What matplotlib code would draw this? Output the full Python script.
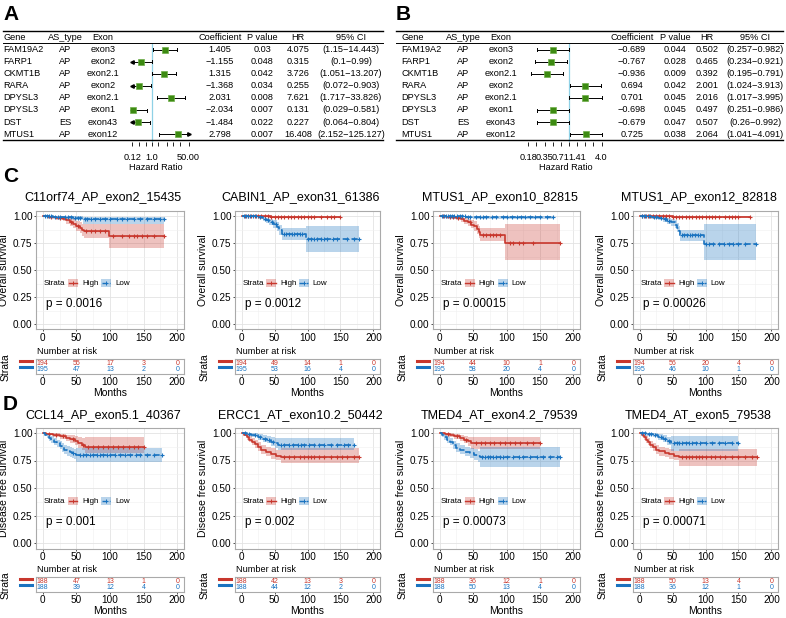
import matplotlib as mpl
mpl.use("Agg")
import matplotlib.pyplot as plt
from matplotlib.lines import Line2D
from matplotlib.patches import Rectangle
import numpy as np

plt.rcParams['font.family'] = ['Liberation Sans', 'DejaVu Sans']

# ---------------- forest tables ----------------
genes = ["FAM19A2", "FARP1", "CKMT1B", "RARA", "DPYSL3", "DPYSL3", "DST", "MTUS1"]
as_types = ["AP", "AP", "AP", "AP", "AP", "AP", "ES", "AP"]
exons = ["exon3", "exon2", "exon2.1", "exon2", "exon2.1", "exon1", "exon43", "exon12"]

a_coef = [1.405, -1.155, 1.315, -1.368, 2.031, -2.034, -1.484, 2.798]
a_pval = [0.03, 0.048, 0.042, 0.034, 0.008, 0.007, 0.022, 0.007]
a_hr = [4.075, 0.315, 3.726, 0.255, 7.621, 0.131, 0.227, 16.408]
a_lo = [1.15, 0.1, 1.051, 0.072, 1.717, 0.029, 0.064, 2.152]
a_hi = [14.443, 0.99, 13.207, 0.903, 33.826, 0.581, 0.804, 125.127]

b_coef = [-0.689, -0.767, -0.936, 0.694, 0.701, -0.698, -0.679, 0.725]
b_pval = [0.044, 0.028, 0.009, 0.042, 0.045, 0.045, 0.047, 0.038]
b_hr = [0.502, 0.465, 0.392, 2.001, 2.016, 0.497, 0.507, 2.064]
b_lo = [0.257, 0.234, 0.195, 1.024, 1.017, 0.251, 0.26, 1.041]
b_hi = [0.982, 0.921, 0.791, 3.913, 3.995, 0.986, 0.992, 4.091]

a_ticks = [0.12, 0.25, 0.5, 1.0, 2.0, 5.0, 10.0, 20.0, 50.0]
a_ticklabels = ["0.12", "", "", "1.0", "", "", "", "", "50.00"]
b_ticks = [0.177, 0.25, 0.354, 0.5, 0.707, 1.0, 1.414, 2.0, 2.83, 4.0]
b_ticklabels = ["0.18", "", "0.35", "", "0.71", "", "1.41", "", "", "4.0"]

# ---------------- Kaplan-Meier curves ----------------
risk_times = [0, 50, 100, 150, 200]

# C1 C11orf74
c1_high_t = [0, 8, 20, 30, 35, 40, 45, 50, 55, 58, 62, 98, 180]
c1_high_s = [1.0, 0.99, 0.985, 0.975, 0.96, 0.945, 0.93, 0.91, 0.89, 0.87, 0.86, 0.815, 0.815]
c1_high_lo = [1.0, 0.975, 0.965, 0.95, 0.93, 0.91, 0.89, 0.865, 0.84, 0.815, 0.80, 0.70, 0.70]
c1_high_up = [1.0, 1.0, 1.0, 0.995, 0.99, 0.98, 0.97, 0.955, 0.94, 0.93, 0.925, 0.93, 0.93]
c1_high_cens = [12, 25, 42, 52, 65, 72, 78, 85, 92, 105, 118, 128, 135, 140, 147, 155, 165, 180]
c1_low_t = [0, 15, 30, 45, 60, 180]
c1_low_s = [1.0, 0.995, 0.99, 0.985, 0.97, 0.97]
c1_low_lo = [1.0, 0.985, 0.975, 0.965, 0.925, 0.925]
c1_low_up = [1.0, 1.0, 1.0, 1.0, 0.995, 0.995]
c1_low_cens = [3, 6, 9, 12, 18, 22, 26, 33, 38, 42, 48, 52, 56, 63, 66, 72, 78, 85, 92, 100,
               110, 118, 125, 135, 145, 155, 165, 175, 180]
c1_risk_high = [194, 55, 17, 3, 0]
c1_risk_low = [195, 47, 13, 2, 0]

# C2 CABIN1
c2_high_t = [0, 20, 45, 80, 150]
c2_high_s = [1.0, 0.997, 0.995, 0.992, 0.992]
c2_high_lo = [1.0, 0.99, 0.985, 0.978, 0.978]
c2_high_up = [1.0, 1.0, 1.0, 1.0, 1.0]
c2_high_cens = [5, 10, 15, 20, 25, 30, 35, 40, 45, 50, 55, 60, 65, 70, 75, 80, 85, 90, 95, 100,
                105, 110, 120, 130, 135, 140, 150]
c2_low_t = [0, 25, 32, 37, 42, 48, 53, 57, 61, 97, 178]
c2_low_s = [1.0, 0.99, 0.975, 0.96, 0.945, 0.925, 0.90, 0.87, 0.835, 0.79, 0.79]
c2_low_lo = [1.0, 0.975, 0.955, 0.935, 0.915, 0.89, 0.86, 0.825, 0.78, 0.67, 0.67]
c2_low_up = [1.0, 1.0, 0.995, 0.985, 0.975, 0.96, 0.94, 0.915, 0.89, 0.91, 0.91]
c2_low_cens = [3, 6, 9, 13, 17, 22, 28, 35, 40, 46, 52, 64, 68, 72, 76, 80, 84, 88, 92, 100,
               105, 110, 115, 120, 125, 130, 138, 145, 160, 170, 178]
c2_risk_high = [194, 49, 14, 1, 0]
c2_risk_low = [195, 53, 16, 4, 0]

# C3 MTUS1 exon10
c3_high_t = [0, 10, 25, 32, 37, 42, 47, 52, 56, 59, 61, 98, 180]
c3_high_s = [1.0, 0.99, 0.98, 0.97, 0.955, 0.94, 0.92, 0.905, 0.88, 0.85, 0.82, 0.75, 0.75]
c3_high_lo = [1.0, 0.975, 0.96, 0.945, 0.93, 0.91, 0.885, 0.865, 0.835, 0.80, 0.765, 0.59, 0.59]
c3_high_up = [1.0, 1.0, 1.0, 0.995, 0.985, 0.975, 0.96, 0.95, 0.93, 0.91, 0.885, 0.93, 0.93]
c3_high_cens = [5, 15, 20, 28, 45, 65, 70, 75, 80, 85, 90, 105, 110, 118, 125, 140, 180]
c3_low_t = [0, 20, 40, 50, 170]
c3_low_s = [1.0, 0.997, 0.995, 0.99, 0.99]
c3_low_lo = [1.0, 0.99, 0.985, 0.97, 0.97]
c3_low_up = [1.0, 1.0, 1.0, 1.0, 1.0]
c3_low_cens = [3, 6, 9, 12, 15, 18, 22, 26, 30, 34, 38, 42, 46, 55, 60, 65, 70, 78, 85, 95,
               100, 108, 115, 122, 128, 135, 142, 150, 160, 170]
c3_risk_high = [194, 44, 10, 1, 0]
c3_risk_low = [195, 58, 20, 4, 0]

# C4 MTUS1 exon12
c4_high_t = [0, 20, 50, 100, 168]
c4_high_s = [1.0, 0.997, 0.995, 0.995, 0.995]
c4_high_lo = [1.0, 0.99, 0.985, 0.985, 0.985]
c4_high_up = [1.0, 1.0, 1.0, 1.0, 1.0]
c4_high_cens = [4, 8, 12, 16, 20, 25, 30, 35, 40, 45, 50, 55, 60, 65, 70, 75, 80, 85, 90, 95,
                100, 105, 110, 115, 120, 130, 135, 140, 145, 150, 168]
c4_low_t = [0, 18, 28, 35, 42, 48, 53, 57, 60, 62, 97, 177]
c4_low_s = [1.0, 0.99, 0.98, 0.97, 0.955, 0.94, 0.92, 0.89, 0.86, 0.82, 0.745, 0.745]
c4_low_lo = [1.0, 0.975, 0.96, 0.945, 0.925, 0.91, 0.885, 0.85, 0.815, 0.77, 0.59, 0.59]
c4_low_up = [1.0, 1.0, 1.0, 0.995, 0.985, 0.975, 0.96, 0.935, 0.91, 0.875, 0.93, 0.93]
c4_low_cens = [3, 6, 10, 14, 22, 25, 32, 38, 45, 65, 68, 72, 76, 80, 84, 88, 92, 100, 105,
               112, 120, 128, 135, 142, 150, 160, 177]
c4_risk_high = [194, 56, 20, 4, 0]
c4_risk_low = [195, 46, 10, 1, 0]

# D1 CCL14
d1_high_t = [0, 5, 15, 26, 35, 41, 48, 53, 58, 63, 150]
d1_high_s = [1.0, 0.995, 0.98, 0.97, 0.955, 0.945, 0.93, 0.91, 0.895, 0.875, 0.875]
d1_high_lo = [1.0, 0.985, 0.96, 0.945, 0.925, 0.91, 0.89, 0.865, 0.845, 0.82, 0.82]
d1_high_up = [1.0, 1.0, 1.0, 0.995, 0.985, 0.98, 0.97, 0.96, 0.955, 0.96, 0.96]
d1_high_cens = [10, 20, 30, 45, 60, 68, 75, 82, 90, 97, 105, 112, 120, 128, 135, 142, 150]
d1_low_t = [0, 3, 6, 10, 13, 17, 21, 25, 28, 32, 36, 40, 43, 47, 50, 178]
d1_low_s = [1.0, 0.985, 0.97, 0.955, 0.94, 0.92, 0.905, 0.885, 0.87, 0.85, 0.835, 0.825,
            0.815, 0.81, 0.80, 0.80]
d1_low_lo = [1.0, 0.97, 0.95, 0.93, 0.91, 0.89, 0.87, 0.85, 0.83, 0.81, 0.795, 0.785,
             0.775, 0.765, 0.735, 0.735]
d1_low_up = [1.0, 1.0, 0.99, 0.98, 0.97, 0.955, 0.94, 0.925, 0.91, 0.895, 0.88, 0.87,
             0.86, 0.855, 0.865, 0.865]
d1_low_cens = [45, 55, 60, 65, 70, 75, 80, 85, 90, 95, 100, 108, 115, 122, 130, 138, 145,
               155, 165, 178]
d1_risk_high = [188, 47, 13, 1, 0]
d1_risk_low = [188, 39, 12, 4, 0]

# D2 ERCC1
d2_high_t = [0, 4, 8, 12, 16, 20, 25, 30, 37, 45, 52, 60, 178]
d2_high_s = [1.0, 0.985, 0.96, 0.94, 0.92, 0.90, 0.87, 0.85, 0.83, 0.81, 0.795, 0.78, 0.78]
d2_high_lo = [1.0, 0.97, 0.94, 0.915, 0.89, 0.865, 0.835, 0.81, 0.79, 0.765, 0.75, 0.725, 0.725]
d2_high_up = [1.0, 1.0, 0.985, 0.97, 0.955, 0.94, 0.915, 0.895, 0.875, 0.86, 0.845, 0.86, 0.86]
d2_high_cens = [65, 72, 80, 88, 95, 100, 105, 110, 118, 125, 135, 145, 152, 160, 170, 178]
d2_low_t = [0, 8, 15, 25, 32, 38, 44, 50, 55, 170]
d2_low_s = [1.0, 0.99, 0.98, 0.965, 0.95, 0.935, 0.92, 0.905, 0.895, 0.895]
d2_low_lo = [1.0, 0.975, 0.96, 0.94, 0.92, 0.905, 0.885, 0.865, 0.845, 0.845]
d2_low_up = [1.0, 1.0, 1.0, 0.99, 0.98, 0.97, 0.96, 0.95, 0.955, 0.955]
d2_low_cens = [5, 12, 20, 28, 35, 42, 47, 60, 65, 72, 78, 85, 90, 95, 102, 110, 118, 125,
               135, 145, 155, 162, 170]
d2_risk_high = [188, 42, 13, 3, 0]
d2_risk_low = [188, 44, 12, 2, 0]

# D3 TMED4 exon4.2
d3_high_t = [0, 8, 16, 22, 30, 36, 42, 47, 150]
d3_high_s = [1.0, 0.99, 0.98, 0.97, 0.955, 0.94, 0.925, 0.91, 0.91]
d3_high_lo = [1.0, 0.975, 0.96, 0.945, 0.925, 0.905, 0.885, 0.855, 0.855]
d3_high_up = [1.0, 1.0, 1.0, 0.995, 0.985, 0.975, 0.965, 0.96, 0.96]
d3_high_cens = [12, 26, 40, 55, 62, 68, 75, 82, 90, 98, 105, 112, 120, 130, 140, 150]
d3_low_t = [0, 3, 7, 11, 15, 20, 25, 30, 38, 45, 52, 57, 60, 180]
d3_low_s = [1.0, 0.98, 0.96, 0.94, 0.92, 0.89, 0.86, 0.845, 0.83, 0.82, 0.80, 0.79, 0.78, 0.78]
d3_low_lo = [1.0, 0.96, 0.935, 0.91, 0.89, 0.855, 0.825, 0.805, 0.79, 0.775, 0.755, 0.74,
             0.695, 0.695]
d3_low_up = [1.0, 1.0, 0.985, 0.97, 0.955, 0.93, 0.905, 0.89, 0.875, 0.865, 0.85, 0.84,
             0.87, 0.87]
d3_low_cens = [64, 68, 72, 76, 80, 85, 90, 95, 100, 110, 118, 125, 135, 145, 155, 165, 175, 180]
d3_risk_high = [188, 36, 12, 1, 0]
d3_risk_low = [188, 50, 13, 4, 0]

# D4 TMED4 exon5
d4_high_t = [0, 3, 6, 9, 12, 16, 20, 25, 30, 38, 45, 52, 60, 178]
d4_high_s = [1.0, 0.985, 0.96, 0.94, 0.92, 0.895, 0.87, 0.85, 0.835, 0.82, 0.81, 0.795, 0.78, 0.78]
d4_high_lo = [1.0, 0.965, 0.935, 0.91, 0.89, 0.86, 0.835, 0.81, 0.795, 0.78, 0.765, 0.75,
              0.70, 0.70]
d4_high_up = [1.0, 1.0, 0.985, 0.97, 0.955, 0.93, 0.905, 0.89, 0.875, 0.86, 0.85, 0.835,
              0.855, 0.855]
d4_high_cens = [64, 70, 75, 80, 85, 90, 95, 100, 108, 115, 122, 130, 140, 150, 160, 170, 178]
d4_low_t = [0, 10, 20, 28, 35, 42, 47, 150]
d4_low_s = [1.0, 0.99, 0.98, 0.965, 0.95, 0.93, 0.91, 0.91]
d4_low_lo = [1.0, 0.975, 0.96, 0.94, 0.92, 0.895, 0.84, 0.84]
d4_low_up = [1.0, 1.0, 1.0, 0.99, 0.98, 0.965, 0.97, 0.97]
d4_low_cens = [4, 8, 14, 18, 24, 32, 38, 44, 52, 56, 60, 65, 70, 75, 80, 85, 92, 100, 110,
               120, 130, 140, 150]
d4_risk_high = [188, 50, 13, 4, 0]
d4_risk_low = [188, 36, 12, 1, 0]

c_titles = ["C11orf74_AP_exon2_15435", "CABIN1_AP_exon31_61386",
            "MTUS1_AP_exon10_82815", "MTUS1_AP_exon12_82818"]
d_titles = ["CCL14_AP_exon5.1_40367", "ERCC1_AT_exon10.2_50442",
            "TMED4_AT_exon4.2_79539", "TMED4_AT_exon5_79538"]
c_pvals = ["0.0016", "0.0012", "0.00015", "0.00026"]
d_pvals = ["0.001", "0.002", "0.00073", "0.00071"]

RED = "#C8372D"
BLUE = "#1A73C0"
GREEN = "#3d8b12"

W, H = 786, 618
fig = plt.figure(figsize=(W / 100, H / 100), dpi=100)


def box(x0, y0, x1, y1):
    return [x0 / W, 1 - y1 / H, (x1 - x0) / W, (y1 - y0) / H]


def ftext(x, y, s, **kw):
    kw.setdefault('va', 'center')
    fig.text(x / W, 1 - y / H, s, **kw)


def hline(x0, x1, y, lw):
    fig.add_artist(Line2D([x0 / W, x1 / W], [1 - y / H, 1 - y / H], color='black', lw=lw))


def fmt(v):
    return f"{v:g}".replace('-', '\u2212')


def forest(c, coef, pval, hr, lo, hi, ax_x, xlim, ticks, ticklabels, hr_lab_x):
    fs = 6.6
    hline(c['left'], c['right'], 31, 1.0)
    hline(c['left'], c['right'], 43.3, 0.7)
    hline(c['left'], c['right'], 140, 1.0)
    ftext(c['gene'], 37, "Gene", fontsize=fs, ha='left')
    ftext(c['type'], 37, "AS_type", fontsize=fs, ha='center')
    ftext(c['exon'], 37, "Exon", fontsize=fs, ha='center')
    ftext(c['coef'], 37, "Coefficient", fontsize=fs, ha='center')
    ftext(c['p'], 37, "P value", fontsize=fs, ha='center')
    ftext(c['hr'], 37, "HR", fontsize=fs, ha='center')
    ftext(c['ci'], 37, "95% CI", fontsize=fs, ha='center')
    rows_y = [49.5 + 12.1 * i for i in range(len(genes))]
    for i, y in enumerate(rows_y):
        ftext(c['gene'], y, genes[i], fontsize=fs, ha='left')
        ftext(c['type'], y, as_types[i], fontsize=fs, ha='center')
        ftext(c['exon'], y, exons[i], fontsize=fs, ha='center')
        ftext(c['coef'], y, fmt(coef[i]), fontsize=fs, ha='center')
        ftext(c['p'], y, fmt(pval[i]), fontsize=fs, ha='center')
        ftext(c['hr'], y, fmt(hr[i]), fontsize=fs, ha='center')
        ftext(c['ci'], y, "(" + fmt(lo[i]) + "\u2212" + fmt(hi[i]) + ")", fontsize=fs, ha='center')

    ax = fig.add_axes(box(ax_x[0], 43.3, ax_x[1], 142))
    ax.set_xscale('log')
    ax.set_xlim(xlim)
    ax.set_ylim(142, 43.3)
    ax.patch.set_alpha(0)
    for sp in ax.spines.values():
        sp.set_visible(False)
    ax.axvline(1, color='#8fd1e6', lw=0.9)
    for y, h, l, u in zip(rows_y, hr, lo, hi):
        l_c = max(l, xlim[0])
        u_c = min(u, xlim[1])
        ax.plot([l_c, u_c], [y, y], color='black', lw=0.7, clip_on=False)
        if l < xlim[0]:
            ax.plot(l_c, y, marker='<', ms=2.5, color='black', clip_on=False)
        else:
            ax.plot([l_c, l_c], [y - 1.5, y + 1.5], color='black', lw=0.7, clip_on=False)
        if u > xlim[1]:
            ax.plot(u_c, y, marker='>', ms=2.5, color='black', clip_on=False)
        else:
            ax.plot([u_c, u_c], [y - 1.5, y + 1.5], color='black', lw=0.7, clip_on=False)
        ax.plot(h, y, marker='s', ms=4.5, mfc=GREEN, mec='#6fae4a', mew=0.5, clip_on=False)
    ax.set_yticks([])
    ax.minorticks_off()
    ax.set_xticks(ticks)
    ax.set_xticklabels(ticklabels)
    ax.minorticks_off()
    ax.tick_params(axis='x', length=3, width=0.6, pad=5, labelsize=fs)
    ftext(hr_lab_x, 167, "Hazard Ratio", fontsize=fs, ha='center')


cols_a = dict(left=3, right=383, gene=3, type=65, exon=103, coef=220, p=262, hr=298, ci=351)
cols_b = dict(left=396, right=783, gene=401, type=463, exon=501, coef=632, p=675, hr=707, ci=755)
forest(cols_a, a_coef, a_pval, a_hr, a_lo, a_hi, (132.2, 188.5), (0.12, 50),
       a_ticks, a_ticklabels, 156)
forest(cols_b, b_coef, b_pval, b_hr, b_lo, b_hi, (527.4, 602.7), (0.17, 4.2),
       b_ticks, b_ticklabels, 566)


def km(left, right, top, bot, title_y, title, ylabel, pval, curves, risk_high, risk_low,
       r_top, r_bot):
    ax = fig.add_axes(box(left, top, right, bot))
    for t, s, lo, up, cens, col, ls in curves:
        t = np.array(t)
        s = np.array(s)
        ax.fill_between(t, lo, up, step='post', color=col, alpha=0.3, lw=0)
        ax.step(t, s, where='post', color=col, lw=1.2, ls=ls)
        idx = np.searchsorted(t, cens, side='right') - 1
        ax.plot(cens, s[idx], ls='none', marker='+', ms=3.5, mew=0.8, color=col)
    ax.set_xlim(-10, 210)
    ax.set_ylim(-0.05, 1.05)
    ax.set_xticks([0, 50, 100, 150, 200])
    ax.set_xticks([25, 75, 125, 175], minor=True)
    ax.set_yticks([0, 0.25, 0.5, 0.75, 1.0])
    ax.set_yticklabels(["0.00", "0.25", "0.50", "0.75", "1.00"])
    ax.set_yticks([0.125, 0.375, 0.625, 0.875], minor=True)
    ax.grid(which='major', color='#e3e3e3', lw=0.6)
    ax.grid(which='minor', color='#f0f0f0', lw=0.4)
    ax.set_axisbelow(True)
    ax.tick_params(which='major', length=1.5, width=0.6, pad=1, labelsize=7.2, color='#333333')
    ax.tick_params(which='minor', length=0)
    for sp in ax.spines.values():
        sp.set_color('#aaaaaa')
        sp.set_linewidth(0.8)

    # legend inside the plot
    ly = 0.39
    ax.text(0.05, ly, "Strata", transform=ax.transAxes, fontsize=5.8, va='center')
    for x0, lab, col, ls in [(0.216, "High", RED, '-'), (0.439, "Low", BLUE, '--')]:
        ax.add_patch(Rectangle((x0, ly - 0.034), 0.068, 0.068, transform=ax.transAxes,
                               color=col, alpha=0.3, lw=0))
        ax.plot([x0 + 0.004, x0 + 0.064], [ly, ly], transform=ax.transAxes, color=col,
                lw=1.0, ls=ls)
        ax.plot(x0 + 0.034, ly, transform=ax.transAxes, marker='+', ms=3, mew=0.7, color=col)
        ax.text(x0 + 0.095, ly, lab, transform=ax.transAxes, fontsize=5.8, va='center')
    ax.text(4.5, 0.187, "p = " + pval, fontsize=8.5, va='center')

    ftext((left + right) / 2 - 7, title_y, title, fontsize=9, ha='center')
    ftext(left - 32, (top + bot) / 2, ylabel, fontsize=7.5, rotation=90, ha='center')

    # number at risk table
    rax = fig.add_axes(box(left, r_top, right, r_bot))
    rax.set_xlim(-10, 210)
    rax.set_ylim(0.5, 2.5)
    for tt, n in zip(risk_times, risk_high):
        rax.text(tt, 1.95, str(n), color=RED, fontsize=5, ha='center', va='center')
    for tt, n in zip(risk_times, risk_low):
        rax.text(tt, 1.05, str(n), color=BLUE, fontsize=5, ha='center', va='center')
    rax.set_yticks([])
    rax.set_xticks(risk_times)
    rax.tick_params(axis='x', length=1.5, width=0.6, pad=1, labelsize=7.2, color='#333333')
    rax.set_xlabel("Months", fontsize=7.5, labelpad=0.5)
    for sp in rax.spines.values():
        sp.set_color('#aaaaaa')
        sp.set_linewidth(0.8)
    ftext(left + 1, r_top - 7, "Number at risk", fontsize=6.6, ha='left')
    ftext(left - 30, (r_top + r_bot) / 2 + 1, "Strata", fontsize=7.5, rotation=90, ha='center')
    for dy, col in [(2, RED), (8.3, BLUE)]:
        fig.add_artist(Line2D([(left - 16) / W, (left - 4) / W],
                              [1 - (r_top + dy) / H] * 2, color=col, lw=2.2))


lefts = [36, 235, 433, 633]
rights = [184, 380, 580, 778]

c_curves = [
    [(c1_high_t, c1_high_s, c1_high_lo, c1_high_up, c1_high_cens, RED, '-'),
     (c1_low_t, c1_low_s, c1_low_lo, c1_low_up, c1_low_cens, BLUE, '--')],
    [(c2_high_t, c2_high_s, c2_high_lo, c2_high_up, c2_high_cens, RED, '-'),
     (c2_low_t, c2_low_s, c2_low_lo, c2_low_up, c2_low_cens, BLUE, '--')],
    [(c3_high_t, c3_high_s, c3_high_lo, c3_high_up, c3_high_cens, RED, '-'),
     (c3_low_t, c3_low_s, c3_low_lo, c3_low_up, c3_low_cens, BLUE, '--')],
    [(c4_high_t, c4_high_s, c4_high_lo, c4_high_up, c4_high_cens, RED, '-'),
     (c4_low_t, c4_low_s, c4_low_lo, c4_low_up, c4_low_cens, BLUE, '--')],
]
d_curves = [
    [(d1_high_t, d1_high_s, d1_high_lo, d1_high_up, d1_high_cens, RED, '-'),
     (d1_low_t, d1_low_s, d1_low_lo, d1_low_up, d1_low_cens, BLUE, '--')],
    [(d2_high_t, d2_high_s, d2_high_lo, d2_high_up, d2_high_cens, RED, '-'),
     (d2_low_t, d2_low_s, d2_low_lo, d2_low_up, d2_low_cens, BLUE, '--')],
    [(d3_high_t, d3_high_s, d3_high_lo, d3_high_up, d3_high_cens, RED, '-'),
     (d3_low_t, d3_low_s, d3_low_lo, d3_low_up, d3_low_cens, BLUE, '--')],
    [(d4_high_t, d4_high_s, d4_high_lo, d4_high_up, d4_high_cens, RED, '-'),
     (d4_low_t, d4_low_s, d4_low_lo, d4_low_up, d4_low_cens, BLUE, '--')],
]
c_risk = [(c1_risk_high, c1_risk_low), (c2_risk_high, c2_risk_low),
          (c3_risk_high, c3_risk_low), (c4_risk_high, c4_risk_low)]
d_risk = [(d1_risk_high, d1_risk_low), (d2_risk_high, d2_risk_low),
          (d3_risk_high, d3_risk_low), (d4_risk_high, d4_risk_low)]

for i in range(4):
    km(lefts[i], rights[i], 210.6, 329.4, 197, c_titles[i], "Overall survival", c_pvals[i],
       c_curves[i], c_risk[i][0], c_risk[i][1], 359, 374)
    km(lefts[i], rights[i], 427.5, 548.5, 415, d_titles[i], "Disease free survival", d_pvals[i],
       d_curves[i], d_risk[i][0], d_risk[i][1], 577, 592)

ftext(3, 14.5, "A", fontsize=15, fontweight='bold', ha='left')
ftext(396, 14.5, "B", fontsize=15, fontweight='bold', ha='left')
ftext(3, 177, "C", fontsize=15, fontweight='bold', ha='left')
ftext(3, 405, "D", fontsize=15, fontweight='bold', ha='left')

plt.savefig("out.png", dpi=100)
